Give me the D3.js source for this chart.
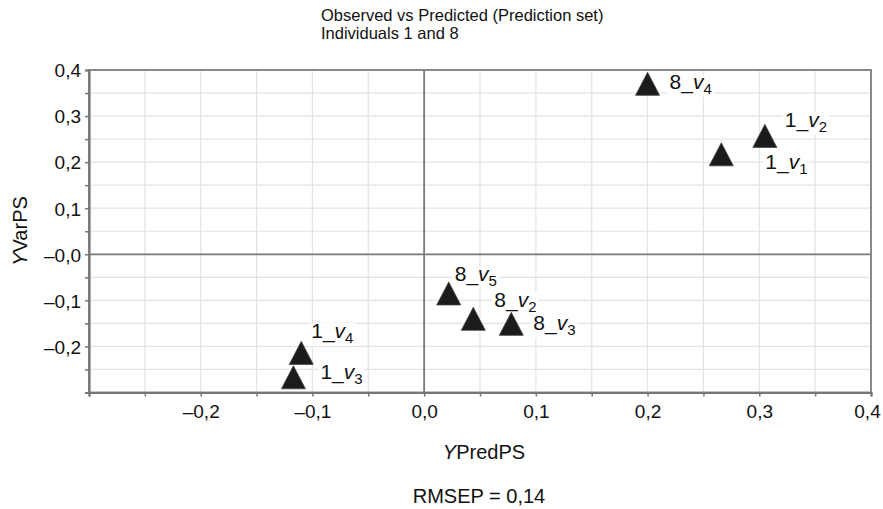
<!DOCTYPE html>
<html>
<head>
<meta charset="utf-8">
<script src="https://cdn.jsdelivr.net/npm/d3@7"></script>
<style>
  html, body { margin: 0; padding: 0; background: #fff; }
  svg { display: block; font-family: "Liberation Sans", Arial, Helvetica, sans-serif; }
</style>
</head>
<body>
<svg id="chart" width="883" height="509"></svg>
<script>
// Observed vs predicted values for the prediction set (individuals 1 and 8)
const individuals = ["1", "1", "1", "1", "8", "8", "8", "8"];
const variables   = ["1", "2", "3", "4", "2", "3", "4", "5"];
const predicted   = [0.266, 0.305, -0.117, -0.110, 0.044, 0.078, 0.200, 0.022];
const observed    = [0.217, 0.257, -0.267, -0.214, -0.140, -0.151, 0.370, -0.085];
const xTickValues = [-0.2, -0.1, 0.0, 0.1, 0.2, 0.3, 0.4];
const yTickValues = [-0.2, -0.1, 0.0, 0.1, 0.2, 0.3, 0.4];
const rmsep = "0,14";

const svg = d3.select("#chart");
const margin = { left: 89, right: 12, top: 70, bottom: 116.5 };
const W = 883, H = 509;

const x = d3.scaleLinear().domain([-0.3, 0.4]).range([margin.left, W - margin.right]);
const y = d3.scaleLinear().domain([-0.3, 0.4]).range([H - margin.bottom, margin.top]);

const fmt = v => {
  const s = Math.abs(v).toFixed(1).replace(".", ",");
  return v < 0 ? "\u2013" + s : s;
};
const minor = d3.range(-0.3, 0.4001, 0.05).map(v => +v.toFixed(2));
const isMajor = (list, d) => list.some(t => Math.abs(t - d) < 1e-9);

// light grid every 0.05
const grid = svg.append("g");
grid.selectAll("line.gx").data(minor).join("line")
  .attr("x1", d => x(d)).attr("x2", d => x(d))
  .attr("y1", y(-0.3)).attr("y2", y(0.4))
  .attr("stroke", "#e3e3e3").attr("stroke-width", 1.2);
grid.selectAll("line.gy").data(minor).join("line")
  .attr("y1", d => y(d)).attr("y2", d => y(d))
  .attr("x1", x(-0.3)).attr("x2", x(0.4))
  .attr("stroke", "#e3e3e3").attr("stroke-width", 1.2);

// zero lines
svg.append("line")
  .attr("x1", x(0)).attr("x2", x(0)).attr("y1", y(-0.3)).attr("y2", y(0.4))
  .attr("stroke", "#7a7a7a").attr("stroke-width", 1.8);
svg.append("line")
  .attr("y1", y(0)).attr("y2", y(0)).attr("x1", x(-0.3)).attr("x2", x(0.4))
  .attr("stroke", "#7a7a7a").attr("stroke-width", 1.8);

// frame
svg.append("rect")
  .attr("x", x(-0.3)).attr("y", y(0.4))
  .attr("width", x(0.4) - x(-0.3)).attr("height", y(-0.3) - y(0.4))
  .attr("fill", "none").attr("stroke", "#8a8a8a").attr("stroke-width", 2);

// axes
const xAxis = d3.axisBottom(x).tickValues(minor).tickSize(4)
  .tickFormat(d => isMajor(xTickValues, d) ? fmt(d) : "");
const yAxis = d3.axisLeft(y).tickValues(minor).tickSize(4)
  .tickFormat(d => isMajor(yTickValues, d) ? (Math.abs(d) < 1e-9 ? "\u20130,0" : fmt(d)) : "");

const gx = svg.append("g").attr("transform", `translate(0,${y(-0.3)})`).call(xAxis);
const gy = svg.append("g").attr("transform", `translate(${x(-0.3)},0)`).call(yAxis);
[gx, gy].forEach(g => {
  g.select(".domain").attr("stroke", "#777").attr("stroke-width", 2.2);
  g.selectAll(".tick line").attr("stroke", "#777").attr("stroke-width", 1.5);
  g.selectAll(".tick text").attr("fill", "#111").style("font-size", "19px")
    .style("font-family", '"Liberation Sans", Arial, sans-serif');
});
gx.selectAll(".tick text").attr("dy", "0.97em");
gx.selectAll(".tick").filter(d => Math.abs(d - 0.4) < 1e-9).select("text").attr("x", -4);
gy.selectAll(".tick text").attr("x", -8).attr("dy", "0.36em");

// titles
const title = svg.append("text").attr("x", 321).attr("y", 21)
  .attr("fill", "#111").style("font-size", "16.5px");
title.append("tspan").attr("x", 321).text("Observed vs Predicted (Prediction set)");
title.append("tspan").attr("x", 321).attr("dy", 17.5).text("Individuals 1 and 8");

const xt = svg.append("text").attr("x", 484).attr("y", 459)
  .attr("text-anchor", "middle").attr("fill", "#111").style("font-size", "20px");
xt.append("tspan").style("font-style", "italic").text("Y");
xt.append("tspan").text("PredPS");

const yt = svg.append("text")
  .attr("transform", `translate(27,231) rotate(-90)`)
  .attr("text-anchor", "middle").attr("fill", "#111").style("font-size", "20px");
yt.append("tspan").style("font-style", "italic").text("Y");
yt.append("tspan").text("VarPS");

svg.append("text").attr("x", 479).attr("y", 503)
  .attr("text-anchor", "middle").attr("fill", "#111").style("font-size", "20px")
  .text(`RMSEP = ${rmsep}`);

// points
const points = individuals.map((ind, i) => ({
  ind, v: variables[i], px: predicted[i], py: observed[i]
}));

// upright triangle marker, centred at mid-height
const triangle = {
  draw(ctx, size) {
    const w = Math.sqrt(size), h = w * 0.96;
    ctx.moveTo(0, -h / 2);
    ctx.lineTo(w / 2, h / 2);
    ctx.lineTo(-w / 2, h / 2);
    ctx.closePath();
  }
};

// label placement relative to its marker (dx, dy to baseline)
const labelOffset = {
  "1_1": [44, 15], "1_2": [20, -9], "1_3": [27, 2], "1_4": [10, -15],
  "8_2": [21, -12], "8_3": [22, 6], "8_4": [22, 5], "8_5": [6, -12]
};

const lbl = svg.append("g");
points.forEach(p => {
  const [dx, dy] = labelOffset[`${p.ind}_${p.v}`];
  const g = lbl.append("g").attr("transform", `translate(${x(p.px) + dx},${y(p.py) + dy})`);
  const bg = g.append("rect").attr("fill", "#fff");
  const t = g.append("text").attr("fill", "#111").style("font-size", "21px");
  t.append("tspan").text(`${p.ind}_`);
  t.append("tspan").style("font-style", "italic").text("v");
  t.append("tspan").style("font-size", "15px").attr("dy", 5).text(p.v);
  const b = t.node().getBBox();
  bg.attr("x", b.x - 2).attr("y", b.y + 4).attr("width", b.width + 4).attr("height", b.height - 4);
});

svg.append("g").selectAll("path").data(points).join("path")
  .attr("transform", d => `translate(${x(d.px)},${y(d.py)})`)
  .attr("d", d3.symbol().type(triangle).size(24 * 24))
  .attr("fill", "#1b1b1b").attr("stroke", "#444").attr("stroke-width", 0.8);
</script>
</body>
</html>
